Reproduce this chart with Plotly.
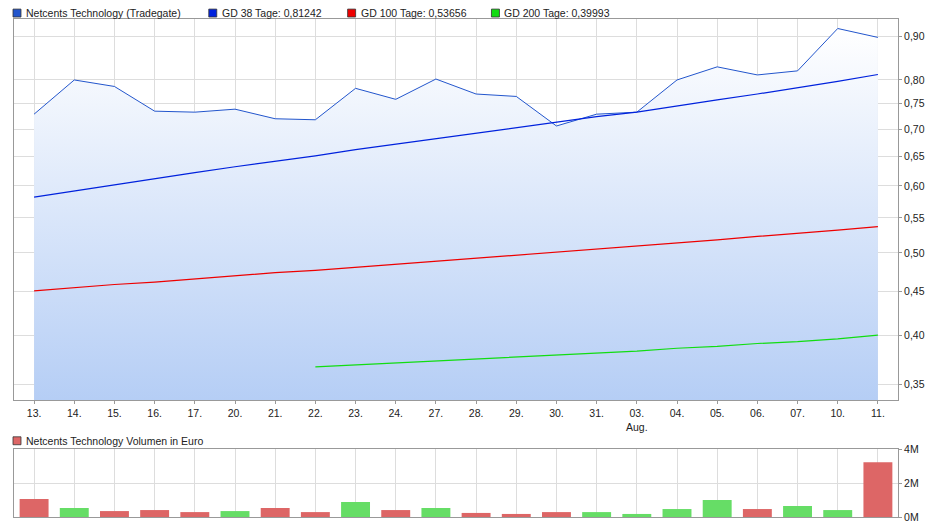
import plotly.graph_objects as go

days = ["13.", "14.", "15.", "16.", "17.", "20.", "21.", "22.", "23.", "24.", "27.",
        "28.", "29.", "30.", "31.", "03.", "04.", "05.", "06.", "07.", "10.", "11."]
tick_labels = [d if d != "03." else "03.<br>Aug." for d in days]
price = [0.729, 0.800, 0.786, 0.735, 0.733, 0.739, 0.720, 0.718, 0.782, 0.759, 0.802,
         0.770, 0.765, 0.706, 0.729, 0.733, 0.800, 0.829, 0.811, 0.820, 0.920, 0.898]
gd38 = [0.582, 0.592, 0.602, 0.612, 0.622, 0.632, 0.641, 0.651, 0.662, 0.672, 0.683,
        0.693, 0.704, 0.714, 0.724, 0.733, 0.746, 0.758, 0.770, 0.783, 0.797, 0.812]
gd100 = [0.451, 0.455, 0.459, 0.462, 0.466, 0.470, 0.474, 0.477, 0.481, 0.485, 0.489,
         0.493, 0.497, 0.501, 0.505, 0.509, 0.514, 0.518, 0.523, 0.527, 0.532, 0.537]
gd200_days = days[7:]
gd200 = [0.367, 0.369, 0.371, 0.373, 0.375, 0.377, 0.379, 0.381, 0.383, 0.386,
         0.388, 0.391, 0.393, 0.396, 0.400]
volume = [1.06, 0.53, 0.35, 0.41, 0.29, 0.35, 0.53, 0.29, 0.88, 0.41, 0.53,
          0.24, 0.18, 0.29, 0.29, 0.18, 0.47, 1.0, 0.47, 0.65, 0.41, 3.24]
vol_up = [False, True, False, False, False, True, False, False, True, False, True,
          False, False, False, True, True, True, True, False, True, True, False]

fig = go.Figure()
fig.add_trace(go.Scatter(x=days, y=[0.33] * len(days), mode="lines",
                         line=dict(width=0), showlegend=False, hoverinfo="skip"))
fig.add_trace(go.Scatter(x=days, y=price, mode="lines", line=dict(color="#2255cc", width=1),
                         fill="tonexty",
                         fillgradient=dict(type="vertical",
                                           colorscale=[[0, "#b4cdf5"], [1, "#ffffff"]]),
                         showlegend=False))
fig.add_trace(go.Scatter(x=days, y=gd38, mode="lines", line=dict(color="#0022dd", width=1.2), showlegend=False))
fig.add_trace(go.Scatter(x=days, y=gd100, mode="lines", line=dict(color="#ee0000", width=1.2), showlegend=False))
fig.add_trace(go.Scatter(x=gd200_days, y=gd200, mode="lines", line=dict(color="#11dd11", width=1.2), showlegend=False))
fig.add_trace(go.Bar(x=days, y=[v * 1e6 for v in volume], xaxis="x2", yaxis="y2",
                     marker=dict(color=["#66dd66" if u else "#dd6666" for u in vol_up], line=dict(width=0)),
                     width=0.72, showlegend=False))

grid = "#dddddd"
T, B = 6, 17
fig.update_layout(
    width=940, height=526, margin=dict(l=5, r=50, t=T, b=B),
    paper_bgcolor="white", plot_bgcolor="white",
    font=dict(family="Liberation Sans, Arial", size=10.5, color="#222"),
    xaxis=dict(type="category", range=[-0.5, 21.5], tickvals=days, ticktext=tick_labels,
               showgrid=True, gridcolor=grid, showline=True, linecolor="#999", mirror=True,
               ticks="outside", ticklen=3, tickcolor="#999", domain=[0, 1]),
    yaxis=dict(type="log", range=[-0.475, -0.025], side="right", domain=[0.234, 1],
               tickvals=[0.35, 0.4, 0.45, 0.5, 0.55, 0.6, 0.65, 0.7, 0.75, 0.8, 0.9],
               ticktext=["0,35", "0,40", "0,45", "0,50", "0,55", "0,60", "0,65", "0,70", "0,75", "0,80", "0,90"],
               showgrid=True, gridcolor=grid, showline=True, linecolor="#999", mirror=True,
               ticks="outside", ticklen=3, tickcolor="#999"),
    xaxis2=dict(type="category", range=[-0.5, 21.5], anchor="y2", showticklabels=False,
                showgrid=True, gridcolor=grid, showline=True, linecolor="#999", mirror=True),
    yaxis2=dict(range=[0, 4e6], side="right", domain=[0, 0.136], anchor="x2",
                tickvals=[0, 2e6, 4e6], ticktext=["0M", "2M", "4M"],
                showgrid=True, gridcolor=grid, showline=True, linecolor="#999", mirror=True,
                ticks="outside", ticklen=3, tickcolor="#999"),
)

legend = [("Netcents Technology (Tradegate)", "#2255cc", 4),
          ("GD 38 Tage: 0,81242", "#0022dd", 200),
          ("GD 100 Tage: 0,53656", "#ee0000", 339),
          ("GD 200 Tage: 0,39993", "#11dd11", 483)]
items = legend + [("Netcents Technology Volumen in Euro", "#dd6666", 4)]
W, H = 885, 526 - T - B
for i, (txt, col, px_x) in enumerate(items):
    py = 0 if i < 4 else 432
    yc = (526 - B - py) / H
    fig.add_shape(type="rect", xref="paper", yref="paper",
                  x0=(px_x - 5) / W, x1=(px_x + 3) / W,
                  y0=yc - 4 / H, y1=yc + 4 / H,
                  fillcolor=col, line=dict(color="#333", width=0.8))
    fig.add_annotation(text=txt, xref="paper", yref="paper", x=(px_x + 6) / W,
                       y=yc, xanchor="left", yanchor="middle",
                       showarrow=False, font=dict(size=10.5, color="#222"))

fig.write_html("out.html")
